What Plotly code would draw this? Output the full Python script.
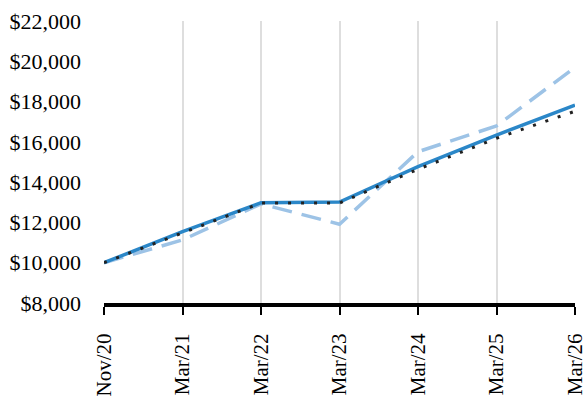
import plotly.graph_objects as go

periods = ["Nov/20", "Mar/21", "Mar/22", "Mar/23", "Mar/24", "Mar/25", "Mar/26"]
fund = [10000, 11540, 12980, 13010, 14770, 16340, 17820]
broad_index = [10000, 11130, 12920, 11910, 15510, 16790, 19700]
peer_index = [10000, 11500, 12960, 12960, 14640, 16180, 17520]
y_ticks = [8000, 10000, 12000, 14000, 16000, 18000, 20000, 22000]

fig = go.Figure()
fig.add_trace(go.Scatter(x=periods, y=broad_index, mode="lines",
                         line=dict(color="#9dc3e6", width=3.5, dash="20px,10px")))
fig.add_trace(go.Scatter(x=periods, y=fund, mode="lines",
                         line=dict(color="#2b87c8", width=3.5)))
fig.add_trace(go.Scatter(x=periods, y=peer_index, mode="lines",
                         line=dict(color="#222222", width=3, dash="3px,10px")))

font = dict(family="Liberation Serif, Times New Roman, serif", size=22, color="#000000")
xfont = dict(font, size=21)

fig.update_layout(
    width=584, height=397,
    margin=dict(l=104, r=9, t=21, b=94),
    paper_bgcolor="white", plot_bgcolor="white",
    showlegend=False,
    font=font,
    xaxis=dict(
        type="category", range=[0, 6], automargin=False,
        showgrid=True, gridcolor="#dedede", gridwidth=2,
        showline=True, linecolor="#000000", linewidth=4,
        ticks="outside", ticklen=8, tickwidth=2, tickcolor="#000000",
        tickangle=-90, ticklabelstandoff=10,
        tickfont=xfont,
    ),
    yaxis=dict(
        range=[8000, 22000], automargin=False,
        tickvals=y_ticks,
        ticktext=[f"${v:,}" for v in y_ticks],
        showgrid=False, zeroline=False, showline=False,
        ticks="", ticklabelstandoff=22,
        tickfont=font,
    ),
)

fig.write_html("out.html")
